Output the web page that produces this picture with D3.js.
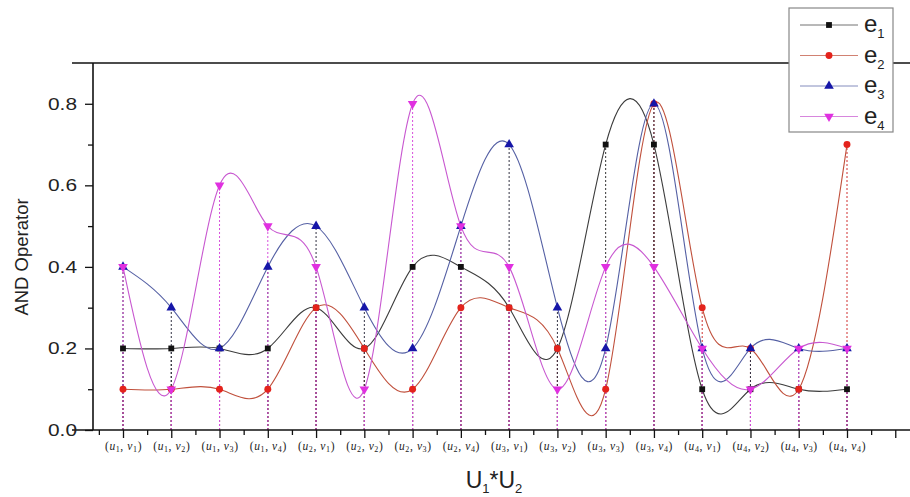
<!DOCTYPE html>
<html>
<head>
<meta charset="utf-8">
<script src="https://cdn.jsdelivr.net/npm/d3@7"></script>
<style>
  html, body { margin: 0; padding: 0; background: #fff; }
  svg { display: block; }
  .tick text { fill: #222; }
</style>
</head>
<body>
<svg id="chart" width="910" height="497"></svg>
<script>
/* AND operator values over U1*U2 pairs */

const categories = ["(u1, v1)", "(u1, v2)", "(u1, v3)", "(u1, v4)",
                    "(u2, v1)", "(u2, v2)", "(u2, v3)", "(u2, v4)",
                    "(u3, v1)", "(u3, v2)", "(u3, v3)", "(u3, v4)",
                    "(u4, v1)", "(u4, v2)", "(u4, v3)", "(u4, v4)"];

const e1 = [0.2, 0.2, 0.2, 0.2, 0.3, 0.2, 0.4, 0.4, 0.3, 0.2, 0.7, 0.7, 0.1, 0.1, 0.1, 0.1];
const e2 = [0.1, 0.1, 0.1, 0.1, 0.3, 0.2, 0.1, 0.3, 0.3, 0.2, 0.1, 0.8, 0.3, 0.2, 0.1, 0.7];
const e3 = [0.4, 0.3, 0.2, 0.4, 0.5, 0.3, 0.2, 0.5, 0.7, 0.3, 0.2, 0.8, 0.2, 0.2, 0.2, 0.2];
const e4 = [0.4, 0.1, 0.6, 0.5, 0.4, 0.1, 0.8, 0.5, 0.4, 0.1, 0.4, 0.4, 0.2, 0.1, 0.2, 0.2];

const yMajor = [0, 0.2, 0.4, 0.6, 0.8];
const yMinor = [0.1, 0.3, 0.5, 0.7];

const series = [
  { name: "1", values: e1, line: "#3c3c3c", mark: "#111", drop: "#333",    sym: "square" },
  { name: "2", values: e2, line: "#c0503c", mark: "#e4231c", drop: "#d03030", sym: "circle" },
  { name: "3", values: e3, line: "#5560a4", mark: "#1616a8", drop: "#334",    sym: "up" },
  { name: "4", values: e4, line: "#c858d0", mark: "#e030e0", drop: "#d850dc", sym: "down" }
];

const svg = d3.select("#chart");
const W = 910;

// scales: category i sits at value i (1..16)
const x = d3.scaleLinear().domain([1, 16]).range([123, 847]);
const y = d3.scaleLinear().domain([0, 0.9]).range([430, 63]);
const xL = x.invert(93);

const symbolFor = s => {
  if (s === "square") return d3.symbol().type(d3.symbolSquare).size(34)();
  if (s === "circle") return d3.symbol().type(d3.symbolCircle).size(38)();
  return d3.symbol().type(d3.symbolTriangle).size(40)();
};

// ── Droplines (drawn up from the axis so the dashes line up) ──
const dropG = svg.append("g");
series.forEach(s => {
  dropG.selectAll(null)
    .data(s.values).join("line")
    .attr("x1", (d, i) => x(i + 1)).attr("x2", (d, i) => x(i + 1))
    .attr("y1", y(0)).attr("y2", d => y(d))
    .attr("stroke", s.drop).attr("stroke-width", 1)
    .attr("stroke-dasharray", "2,2");
});

// ── Curves ──
const line = d3.line()
  .x((d, i) => x(i + 1))
  .y(d => y(d))
  .curve(d3.curveNatural);

series.forEach(s => {
  svg.append("path")
    .attr("d", line(s.values))
    .attr("fill", "none")
    .attr("stroke", s.line)
    .attr("stroke-width", 1.1);
});

// ── Markers ──
series.forEach(s => {
  svg.append("g").selectAll("path")
    .data(s.values).join("path")
    .attr("d", symbolFor(s.sym))
    .attr("transform", (d, i) => `translate(${x(i + 1)},${y(d)})` + (s.sym === "down" ? " rotate(180)" : ""))
    .attr("fill", s.mark);
});

// ── Axes ──
const axG = svg.append("g").attr("fill", "none");

// bottom: minor ticks then major ticks with labels
const bottomMinor = svg.append("g").attr("transform", `translate(0,${y(0)})`)
  .call(d3.axisBottom(x).tickValues(d3.range(0.5, 17.6, 1)).tickSize(5).tickFormat(""));
const bottomMajor = svg.append("g").attr("transform", `translate(0,${y(0)})`)
  .call(d3.axisBottom(x).tickValues(d3.range(1, 18)).tickSize(8).tickPadding(4)
    .tickFormat(d => categories[d - 1] || ""));
[bottomMinor, bottomMajor].forEach(g => {
  g.select(".domain").remove();
  g.selectAll(".tick line").attr("stroke", "#111").attr("stroke-width", 1.3);
});

// rebuild labels with italic letters and subscripts
bottomMajor.selectAll(".tick text").each(function(d) {
  const label = categories[d - 1];
  const t = d3.select(this).text(null)
    .attr("font-family", "'Liberation Serif', serif")
    .attr("font-size", 11.5).attr("letter-spacing", 0.6)
    .attr("fill", "#333");
  if (!label) return;
  const parts = label.match(/\((u)(\d), (v)(\d)\)/);
  t.append("tspan").text("(");
  t.append("tspan").attr("font-style", "italic").text(parts[1]);
  t.append("tspan").attr("font-size", 8).attr("dy", 2).text(parts[2]);
  t.append("tspan").attr("dy", -2).text(", ");
  t.append("tspan").attr("font-style", "italic").text(parts[3]);
  t.append("tspan").attr("font-size", 8).attr("dy", 2).text(parts[4]);
  t.append("tspan").attr("dy", -2).text(")");
});

// left: minor then major
const leftMinor = svg.append("g").attr("transform", `translate(${x(xL)},0)`)
  .call(d3.axisLeft(y).tickValues(yMinor).tickSize(5).tickFormat(""));
const leftMajor = svg.append("g").attr("transform", `translate(${x(xL)},0)`)
  .call(d3.axisLeft(y).tickValues(yMajor).tickSize(8).tickPadding(8).tickFormat(d3.format(".1f")));
[leftMinor, leftMajor].forEach(g => {
  g.select(".domain").remove();
  g.selectAll(".tick line").attr("stroke", "#111").attr("stroke-width", 1.3);
});
leftMajor.selectAll(".tick text")
  .attr("font-family", "'Liberation Sans', Arial, sans-serif")
  .attr("font-size", 17).attr("fill", "#333")
  .attr("textLength", 29).attr("lengthAdjust", "spacingAndGlyphs");

// frame lines (top and bottom run past the left axis, as in the source)
axG.append("line").attr("x1", 72).attr("x2", W).attr("y1", y(0)).attr("y2", y(0))
  .attr("stroke", "#111").attr("stroke-width", 1.6);
axG.append("line").attr("x1", 72).attr("x2", W).attr("y1", y(0.9)).attr("y2", y(0.9))
  .attr("stroke", "#111").attr("stroke-width", 1.6);
axG.append("line").attr("x1", x(xL)).attr("x2", x(xL)).attr("y1", y(0.9)).attr("y2", y(0))
  .attr("stroke", "#111").attr("stroke-width", 1.6);

// ── Titles ──
svg.append("text")
  .attr("transform", "translate(28,257) rotate(-90)")
  .attr("text-anchor", "middle")
  .attr("font-family", "'Liberation Sans', Arial, sans-serif")
  .attr("font-size", 18.5).attr("fill", "#222")
  .text("AND Operator");

const xt = svg.append("text")
  .attr("x", 494).attr("y", 488)
  .attr("text-anchor", "middle")
  .attr("font-family", "'Liberation Sans', Arial, sans-serif")
  .attr("font-size", 23).attr("fill", "#222");
xt.append("tspan").text("U");
xt.append("tspan").attr("font-size", 13).attr("dy", 5).text("1");
xt.append("tspan").attr("dy", -5).text("*U");
xt.append("tspan").attr("font-size", 13).attr("dy", 5).text("2");

// ── Legend ──
const lg = svg.append("g").attr("transform", "translate(789,8)");
lg.append("rect").attr("width", 104).attr("height", 124)
  .attr("fill", "#fff").attr("stroke", "#888").attr("stroke-width", 1.2);
series.forEach((s, i) => {
  const ly = 17 + i * 30.5;
  lg.append("line").attr("x1", 11).attr("x2", 69).attr("y1", ly).attr("y2", ly)
    .attr("stroke", s.line).attr("stroke-width", 0.9).attr("opacity", 0.8);
  lg.append("path").attr("d", symbolFor(s.sym))
    .attr("transform", `translate(40,${ly})` + (s.sym === "down" ? " rotate(180)" : ""))
    .attr("fill", s.mark);
  const t = lg.append("text").attr("x", 75).attr("y", ly + 7)
    .attr("font-family", "'Liberation Sans', Arial, sans-serif")
    .attr("font-size", 24).attr("fill", "#222");
  t.append("tspan").text("e");
  t.append("tspan").attr("font-size", 13).attr("dy", 6).text(s.name);
});
</script>
</body>
</html>
